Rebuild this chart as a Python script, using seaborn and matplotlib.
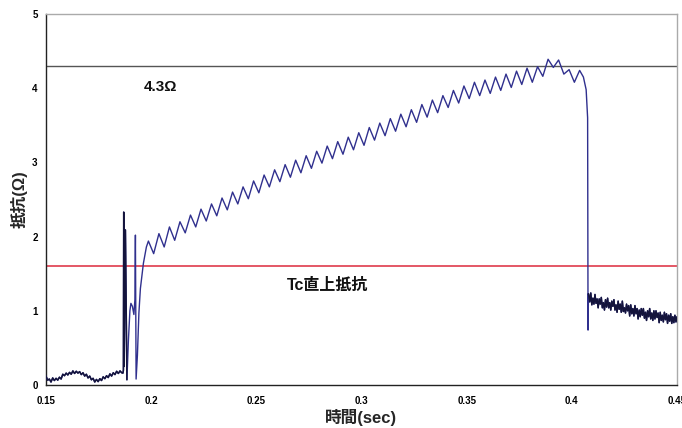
import matplotlib
matplotlib.use("Agg")
import matplotlib.pyplot as plt
import seaborn as sns
import pandas as pd

# ---------------- data ----------------
base_t = [0.1500, 0.1508, 0.1516, 0.1524, 0.1532, 0.1540, 0.1548, 0.1556, 0.1564, 0.1572,
          0.1580, 0.1588, 0.1596, 0.1604, 0.1612, 0.1620, 0.1628, 0.1636, 0.1644, 0.1652,
          0.1660, 0.1668, 0.1676, 0.1684, 0.1692, 0.1700, 0.1708, 0.1716, 0.1724, 0.1732,
          0.1740, 0.1748, 0.1756, 0.1764, 0.1772, 0.1780, 0.1788, 0.1796, 0.1804, 0.1812,
          0.1820, 0.1828, 0.1836, 0.1844, 0.1852, 0.1860]
base_r = [0.12, 0.065, 0.08, 0.04, 0.095, 0.06, 0.09, 0.065, 0.105, 0.08,
          0.145, 0.125, 0.16, 0.135, 0.17, 0.145, 0.19, 0.155, 0.185, 0.16,
          0.18, 0.14, 0.165, 0.12, 0.145, 0.095, 0.12, 0.07, 0.09, 0.04,
          0.075, 0.045, 0.085, 0.06, 0.11, 0.085, 0.125, 0.10, 0.15, 0.12,
          0.165, 0.14, 0.185, 0.155, 0.19, 0.165]

spike_t = [0.18658, 0.18682, 0.18696, 0.18715, 0.18777, 0.18848, 0.18919, 0.18990,
           0.19038, 0.19109, 0.19180, 0.19228, 0.19252, 0.19285, 0.19347, 0.19418,
           0.19489, 0.19632, 0.19774]
spike_r = [0.16, 0.20, 2.33, 0.25, 2.09, 0.07, 0.60, 1.00,
           1.10, 1.06, 0.95, 1.15, 2.02, 0.08, 0.40, 0.97,
           1.30, 1.64, 1.86]

ripple_t = [0.1987, 0.2012, 0.2037, 0.2062, 0.2087, 0.2112, 0.2137, 0.2162, 0.2187, 0.2212,
            0.2237, 0.2262, 0.2287, 0.2312, 0.2337, 0.2362, 0.2387, 0.2412, 0.2437, 0.2462,
            0.2487, 0.2512, 0.2537, 0.2562, 0.2587, 0.2612, 0.2637, 0.2662, 0.2687, 0.2712,
            0.2737, 0.2762, 0.2787, 0.2812, 0.2837, 0.2862, 0.2887, 0.2912, 0.2937, 0.2962,
            0.2987, 0.3012, 0.3037, 0.3062, 0.3087, 0.3112, 0.3137, 0.3162, 0.3187, 0.3212,
            0.3237, 0.3262, 0.3287, 0.3312, 0.3337, 0.3362, 0.3387, 0.3412, 0.3437, 0.3462,
            0.3487, 0.3512, 0.3537, 0.3562, 0.3587, 0.3612, 0.3637, 0.3662, 0.3687, 0.3712,
            0.3737, 0.3762, 0.3787, 0.3812, 0.3837, 0.3862, 0.3887, 0.3912, 0.3937, 0.3962,
            0.3987, 0.4012, 0.4037, 0.4055, 0.4068, 0.4075]
ripple_r = [1.94, 1.77, 2.04, 1.86, 2.13, 1.95, 2.20, 2.05, 2.29, 2.13,
            2.37, 2.21, 2.44, 2.28, 2.52, 2.36, 2.60, 2.44, 2.67, 2.51,
            2.75, 2.59, 2.83, 2.67, 2.90, 2.74, 2.97, 2.80, 3.03, 2.86,
            3.09, 2.92, 3.15, 2.99, 3.22, 3.05, 3.28, 3.11, 3.34, 3.17,
            3.40, 3.23, 3.47, 3.30, 3.53, 3.36, 3.59, 3.42, 3.65, 3.48,
            3.71, 3.54, 3.78, 3.61, 3.84, 3.67, 3.90, 3.74, 3.97, 3.80,
            4.03, 3.86, 4.08, 3.90, 4.11, 3.93, 4.15, 3.97, 4.19, 4.01,
            4.23, 4.05, 4.27, 4.08, 4.29, 4.16, 4.39, 4.28, 4.38, 4.19,
            4.25, 4.08, 4.24, 4.15, 3.98, 3.60]

drop_t = [0.4077]
drop_r = [0.74]

tail_t = [0.4079, 0.4085, 0.4090, 0.4095, 0.4100, 0.4105, 0.4110, 0.4115, 0.4120, 0.4125,
          0.4130, 0.4135, 0.4140, 0.4145, 0.4150, 0.4155, 0.4160, 0.4165, 0.4170, 0.4175,
          0.4180, 0.4185, 0.4190, 0.4195, 0.4200, 0.4205, 0.4210, 0.4215, 0.4220, 0.4225,
          0.4230, 0.4235, 0.4240, 0.4245, 0.4250, 0.4255, 0.4260, 0.4265, 0.4270, 0.4275,
          0.4280, 0.4285, 0.4290, 0.4295, 0.4300, 0.4305, 0.4310, 0.4315, 0.4320, 0.4325,
          0.4330, 0.4335, 0.4340, 0.4345, 0.4350, 0.4355, 0.4360, 0.4365, 0.4370, 0.4375,
          0.4380, 0.4385, 0.4390, 0.4395, 0.4400, 0.4405, 0.4410, 0.4415, 0.4420, 0.4425,
          0.4430, 0.4435, 0.4440, 0.4445, 0.4450, 0.4455, 0.4460, 0.4465, 0.4470, 0.4475,
          0.4480, 0.4485, 0.4490, 0.4495, 0.4500]
tail_r = [1.23, 1.12, 1.24, 1.08, 1.17, 1.09, 1.22, 1.10, 1.16, 1.04,
          1.16, 1.09, 1.18, 1.04, 1.11, 1.01, 1.15, 1.05, 1.17, 1.04,
          1.11, 1.01, 1.13, 1.06, 1.15, 1.01, 1.08, 0.98, 1.13, 1.02,
          1.09, 0.98, 1.13, 0.99, 1.04, 0.97, 1.09, 1.00, 1.07, 0.93,
          1.08, 0.96, 1.03, 0.93, 1.07, 0.96, 1.03, 0.89, 1.01, 0.92,
          1.03, 0.94, 1.03, 0.90, 0.98, 0.87, 1.00, 0.92, 1.03, 0.89,
          0.97, 0.87, 1.00, 0.89, 1.00, 0.91, 0.97, 0.84, 0.98, 0.87,
          0.94, 0.85, 0.98, 0.88, 0.96, 0.83, 0.94, 0.86, 0.96, 0.83,
          0.92, 0.84, 0.94, 0.85, 0.92]

ref_high = 4.3          # 4.3 Ω reference line
ref_tc = 1.6            # resistance just above Tc
x_ticks = [0.15, 0.2, 0.25, 0.3, 0.35, 0.4, 0.45]
x_ticklabels = ["0.15", "0.2", "0.25", "0.3", "0.35", "0.4", "0.45"]
y_ticks = [0, 1, 2, 3, 4, 5]
y_ticklabels = ["0", "1", "2", "3", "4", "5"]

# ---------------- build frames ----------------
t_all = base_t + spike_t + ripple_t + drop_t + tail_t
r_all = base_r + spike_r + ripple_r + drop_r + tail_r
df = pd.DataFrame({"time": t_all, "resistance": r_all})
df_noisy = pd.DataFrame({"time": tail_t, "resistance": tail_r})
df_base = pd.DataFrame({"time": base_t + spike_t[:6], "resistance": base_r + spike_r[:6]})

# ---------------- plotting ----------------
sns.set_style("white")
plt.rcParams["font.family"] = ["Liberation Sans", "Noto Sans CJK JP", "DejaVu Sans"]

fig = plt.figure(figsize=(6.82, 4.28), dpi=100)
ax = fig.add_axes([0.0674, 0.1005, 0.9253, 0.8668])

ax.axhline(ref_high, color="#555555", lw=1.0, zorder=1)
ax.axhline(ref_tc, color="#dc2a3c", lw=1.1, zorder=1)

sns.lineplot(data=df, x="time", y="resistance", sort=False, estimator=None,
             color="#30308e", lw=1.0, ax=ax, zorder=3)
# noisy segments appear darker / denser in the reference
sns.lineplot(data=df_noisy, x="time", y="resistance", sort=False, estimator=None,
             color="#14143c", lw=1.1, ax=ax, zorder=4)
sns.lineplot(data=df_base, x="time", y="resistance", sort=False, estimator=None,
             color="#14143c", lw=1.1, ax=ax, zorder=4)

ax.set_xlim(0.15, 0.45)
ax.set_ylim(0, 5)
ax.set_xticks(x_ticks)
ax.set_xticklabels(x_ticklabels)
ax.set_yticks(y_ticks)
ax.set_yticklabels(y_ticklabels)
ax.tick_params(direction="in", length=3, width=0.8, colors="#222222",
               labelsize=7, pad=6)
for lab in ax.get_xticklabels() + ax.get_yticklabels():
    lab.set_fontweight("bold")
    lab.set_color("black")
ax.tick_params(axis="x", pad=8)

for side in ["left", "bottom"]:
    ax.spines[side].set_color("#222222")
    ax.spines[side].set_linewidth(1.0)
for side in ["top", "right"]:
    ax.spines[side].set_color("#aaaaaa")
    ax.spines[side].set_linewidth(1.0)

ax.set_xlabel("時間(sec)", fontsize=12, fontweight="bold", labelpad=2)
ax.set_ylabel("抵抗(Ω)", fontsize=12, fontweight="bold", labelpad=3)

ax.text(0.2044, 4.02, "4.3Ω", fontsize=11, fontweight="bold",
        ha="center", va="center", color="#111111")
ax.text(0.284, 1.34, "Tc直上抵抗", fontsize=11.5, fontweight="bold",
        ha="center", va="center", color="#111111")

fig.savefig("out.png", dpi=100)
